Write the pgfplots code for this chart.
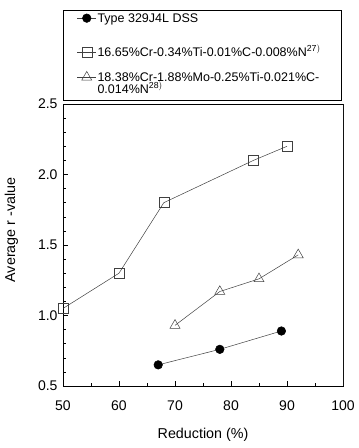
\documentclass[border=0pt]{standalone}
\usepackage{pgfplots}
\pgfplotsset{compat=1.18}
\usepackage{fontspec}
\setmainfont{Liberation Sans}

\definecolor{edgegray}{gray}{0.55}
\definecolor{linegray}{gray}{0.25}

\begin{document}
\begin{tikzpicture}
\begin{axis}[
  name=ax,
  scale only axis,
  width=280pt, height=282pt,
  xmin=50, xmax=100, ymin=0.5, ymax=2.5,
  xtick={50,60,...,100},
  ytick={0.5,1.0,...,2.5},
  minor x tick num=1,
  minor y tick num=4,
  tick align=inside,
  xtick pos=bottom, ytick pos=left,
  major tick length=5pt, minor tick length=3pt,
  tick style={black, line width=0.5pt},
  axis line style={black, line width=0.7pt},
  /pgf/number format/assume math mode=true,
  /pgf/number format/fixed,
  /pgf/number format/precision=1,
  yticklabel style={/pgf/number format/fixed zerofill, font=\fontsize{14}{16}\selectfont, xshift=-2pt},
  xticklabel style={font=\fontsize{14}{16}\selectfont, yshift=-11pt},
  xlabel={Reduction (\%)},
  ylabel={Average r -value},
  label style={font=\fontsize{14.3}{16}\selectfont},
  xlabel style={yshift=-11pt},
  ylabel style={yshift=13pt, xshift=15pt},
  legend style={
    at={(0,1)}, anchor=south west, yshift=3pt,
    draw=black, line width=0.5pt,
    font=\fontsize{12.5}{11.5}\selectfont,
    inner xsep=4pt, inner ysep=3pt,
    nodes={inner sep=1pt, text depth=},
    row sep=14pt,
    cells={anchor=base west},
  },
  legend image code/.code={
    \path[draw=none, fill=none] (0pt,0pt) rectangle (0pt,4.5pt);
    \draw[#1, mark repeat=2, mark phase=2] plot coordinates {(10pt,4.5pt) (19.5pt,4.5pt) (29pt,4.5pt)};
  },
  every axis plot/.append style={line width=0.5pt, linegray},
]
% Type 329J4L duplex stainless steel
\addplot[mark=*, mark size=4.3pt, mark options={fill=black, draw=black}]
  coordinates {(67,0.65) (78,0.76) (89,0.89)};
\addlegendentry{\parbox[t]{239pt}{Type 329J4L DSS\rule[-8.6pt]{0pt}{8.6pt}}}
% 16.65Cr-Ti ferritic steel
\addplot[mark=square, mark size=5pt, mark options={fill=white, draw=linegray}]
  coordinates {(50,1.05) (60,1.30) (68,1.80) (84,2.10) (90,2.20)};
\addlegendentry{\parbox[t]{239pt}{16.65\%Cr-0.34\%Ti-0.01\%C-0.008\%N\smash{$^{\mathrm{27)}}$}}}
% 18.38Cr-Mo-Ti ferritic steel
\addplot[mark=triangle, mark size=5.8pt, mark options={fill=white, draw=linegray}]
  coordinates {(70,0.93) (78,1.17) (85,1.26) (92,1.43)};
\addlegendentry{\parbox[t]{239pt}{18.38\%Cr-1.88\%Mo-0.25\%Ti-0.021\%C-\\0.014\%N\smash{$^{\mathrm{28)}}$}\rule[-3.5pt]{0pt}{3.5pt}}}
\draw[edgegray, line width=0.9pt] (rel axis cs:1,0) -- (rel axis cs:1,1);
\end{axis}
\path ([xshift=-63pt,yshift=-62pt]ax.south west) rectangle ([xshift=15pt,yshift=104pt]ax.north east);
\end{tikzpicture}
\end{document}
